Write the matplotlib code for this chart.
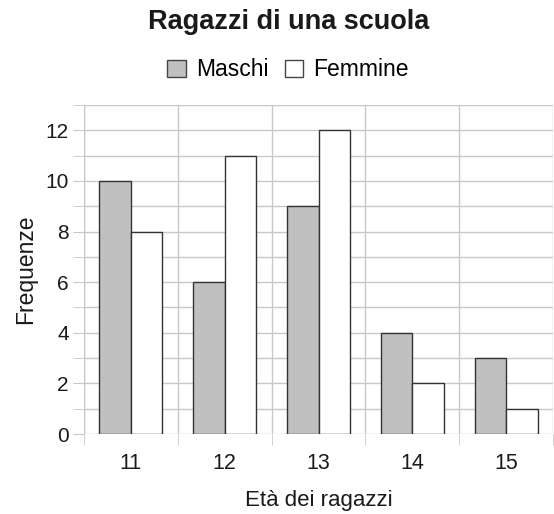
import matplotlib
matplotlib.use("Agg")
import matplotlib.pyplot as plt
import numpy as np
from matplotlib.patches import Patch

categories = ["11", "12", "13", "14", "15"]
maschi = [10, 6, 9, 4, 3]
femmine = [8, 11, 12, 2, 1]

plt.rcParams['font.family'] = ['Liberation Sans', 'DejaVu Sans']

fig = plt.figure(figsize=(5.54, 5.14), dpi=100)
ax = fig.add_axes([84/554, 80/514, 469/554, 329/514])

x = np.arange(len(categories))
w = 0.335
gridc = "#c8c8c8"
txtc = "#1a1a1a"
ax.bar(x - w/2, maschi, w, color="#c0c0c0", edgecolor="#333333", linewidth=1.0, zorder=3, label="Maschi")
ax.bar(x + w/2, femmine, w, color="white", edgecolor="#333333", linewidth=1.0, zorder=3, label="Femmine")

ax.set_xlim(-0.5, 4.5)
ax.set_ylim(0, 13)
ax.set_yticks(range(0, 13, 2))
ax.set_yticks(range(1, 14, 2), minor=True)
ax.set_xticks(x)
ax.set_xticklabels(categories)
ax.set_xticks(np.arange(-0.5, 5.0, 1.0), minor=True)

ax.grid(True, which="both", axis="y", color=gridc, linewidth=1.0, zorder=0)
ax.grid(True, which="minor", axis="x", color=gridc, linewidth=1.0, zorder=0)
for s in ax.spines.values():
    s.set_visible(False)
ax.axvline(-0.5, color=gridc, linewidth=1.0, zorder=0)

ax.tick_params(axis="y", which="both", length=8, color=gridc, labelsize=15, pad=3, labelcolor=txtc)
ax.tick_params(axis="x", which="major", length=0, labelsize=15.5, pad=14, labelcolor=txtc)
ax.tick_params(axis="x", which="minor", length=8, color=gridc)

ax.set_xlabel("Età dei ragazzi", fontsize=16, labelpad=11, color=txtc)
ax.set_ylabel("Frequenze", fontsize=16.5, labelpad=6, color=txtc)

fig.text(289/554, 1 - 22/514, "Ragazzi di una scuola", ha="center", va="center", fontsize=19.5, fontweight="bold", color=txtc)
handles = [Patch(facecolor="#c0c0c0", edgecolor="#444444"), Patch(facecolor="white", edgecolor="#444444")]
fig.legend(handles, ["Maschi", "Femmine"], loc="center", bbox_to_anchor=(288/554, 1 - 70/514), ncol=2, frameon=False,
           fontsize=16.5, handlelength=0.8, handleheight=0.8, handletextpad=0.45, columnspacing=0.7)

fig.savefig("out.png", dpi=100)
